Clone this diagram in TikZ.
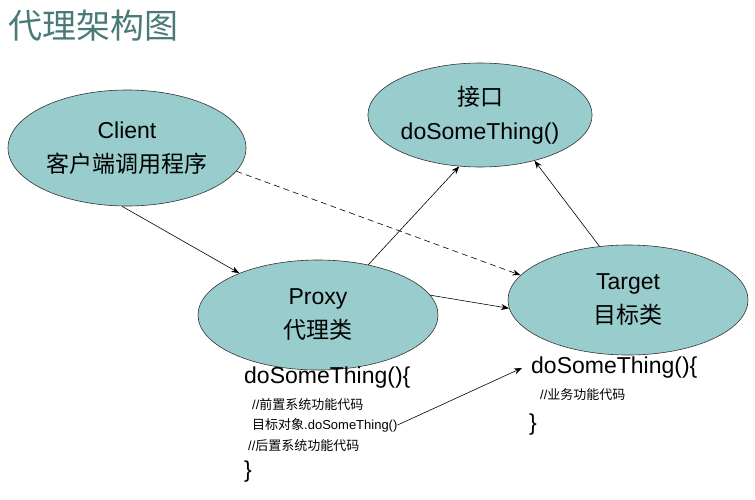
\documentclass[tikz,border=0pt]{standalone}
\usepackage{fontspec}
\setmainfont{Liberation Sans}
\newfontfamily\cjk{Noto Sans CJK SC}
\usetikzlibrary{shapes.geometric,arrows.meta}
\begin{document}
\begin{tikzpicture}[x=1pt,y=-1pt,
  ell/.style={ellipse,draw=black!80,fill=cellfill,line width=0.6pt,inner sep=0pt,align=center,font=\fontsize{23}{34}\selectfont},
  arr/.style={-{Stealth[length=8pt,width=6pt]},line width=0.6pt},
  code/.style={anchor=west,inner sep=0pt,font=\fontsize{23}{26}\selectfont},
  cmt/.style={anchor=west,inner sep=0pt,font=\fontsize{13}{15}\selectfont}]
\definecolor{cellfill}{HTML}{99CCCC}
\definecolor{titlec}{HTML}{4A7A78}
\useasboundingbox (0,0) rectangle (755,500);
\node[anchor=west,inner sep=0pt,text=titlec,font=\cjk\fontsize{34}{38}\selectfont] (title) at (8,26) {代理架构图};
\node[ell,minimum width=238pt,minimum height=116pt] (client) at (127,148) {Client\\{\cjk 客户端调用程序}};
\node[ell,minimum width=216pt,minimum height=104pt] (iface) at (480,115) {{\cjk 接口}\\doSomeThing()};
\node[ell,minimum width=240pt,minimum height=110pt] (proxy) at (318,315) {Proxy\\{\cjk 代理类}};
\node[ell,minimum width=240pt,minimum height=110pt] (target) at (628,300) {Target\\{\cjk 目标类}};
\node[code] (pc1) at (244,378) {doSomeThing()\{};
\node[cmt] (pc2) at (252,405) {//{\cjk 前置系统功能代码}};
\node[cmt] (pc3) at (252,425) {{\cjk 目标对象}.doSomeThing()};
\node[cmt] (pc4) at (248,446) {//{\cjk 后置系统功能代码}};
\node[code] (pc5) at (244,472) {\}};
\node[code] (tc1) at (531,368) {doSomeThing()\{};
\node[cmt] (tc2) at (540,395) {//{\cjk 业务功能代码}};
\node[code] (tc3) at (529,425) {\}};
\coordinate (callend) at (522,368);
\draw[arr] (client.-95) -- (proxy.152);
\draw[arr,dash pattern=on 6pt off 4pt] (client.-12) -- (target.167);
\draw[arr] (proxy.45) -- (iface.-112);
\draw[arr] (proxy.10) -- (target.-176);
\draw[arr] (target.118) -- (iface.-40);
\draw[arr] (pc3.east) -- (callend);
\end{tikzpicture}
\end{document}
